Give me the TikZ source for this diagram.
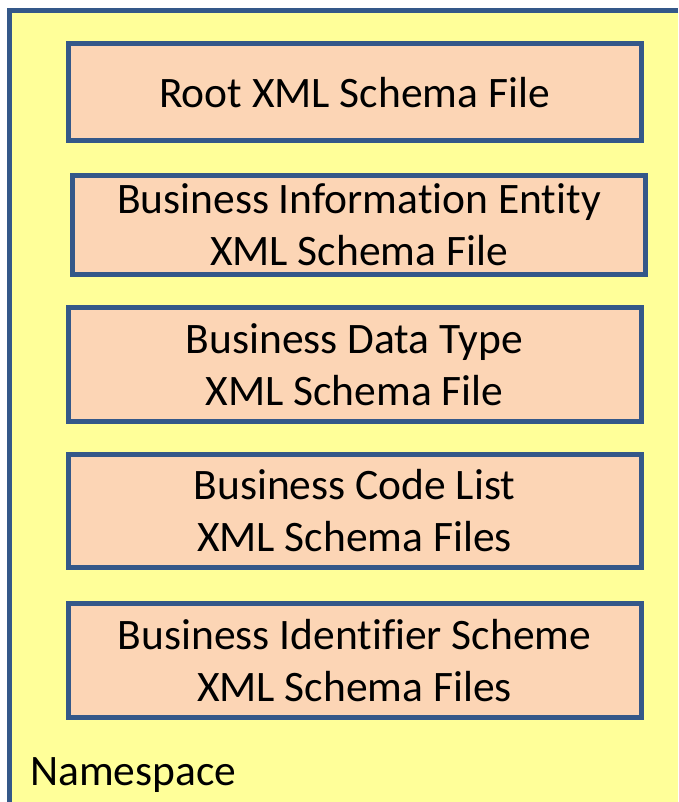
\documentclass[tikz,border=0pt]{standalone}
\usepackage{fontspec}
\setmainfont[Ligatures=NoCommon]{Carlito}
\definecolor{nsfill}{HTML}{FFFF99}
\definecolor{filefill}{HTML}{FCD5B5}
\definecolor{edgeblue}{HTML}{345889}
\tikzset{
  container/.style={draw=edgeblue, fill=nsfill, line width=5pt},
  filebox/.style={draw=edgeblue, fill=filefill, line width=5pt,
    minimum width=573pt, inner sep=0pt, align=center,
    font=\fontsize{43.5}{52}\selectfont},
  nslabel/.style={font=\fontsize{43.5}{52}\selectfont, inner sep=0pt}
}
\begin{document}
\begin{tikzpicture}[x=1pt,y=-1pt]
  \useasboundingbox (0,0) rectangle (678,802);
  \fill[white] (0,0) rectangle (678,802);
  % namespace container: only its top and left sides fall on the page
  \fill[nsfill] (9.5,11) rectangle (678,802);
  \draw[edgeblue, line width=5pt] (678,11) -- (9.5,11) -- (9.5,802);
  % schema files held in the namespace
  \node[filebox, minimum height=97pt]   (root) at (354.5,92.5)  {Root XML Schema File};
  \node[filebox, minimum height=98.5pt] (bie)  at (359,224.75)  {Business Information Entity\\XML Schema File};
  \node[filebox, minimum height=113.5pt](bdt)  at (354.5,364.25) {Business Data Type\\XML Schema File};
  \node[filebox, minimum height=113pt]  (bcl)  at (354.5,511)    {Business Code List\\XML Schema Files};
  \node[filebox, minimum height=113.5pt](bis)  at (354.5,660.25) {Business Identifier Scheme\\XML Schema Files};
  \node[nslabel, anchor=base west] (nsname) at (30,785) {Namespace};
\end{tikzpicture}
\end{document}
